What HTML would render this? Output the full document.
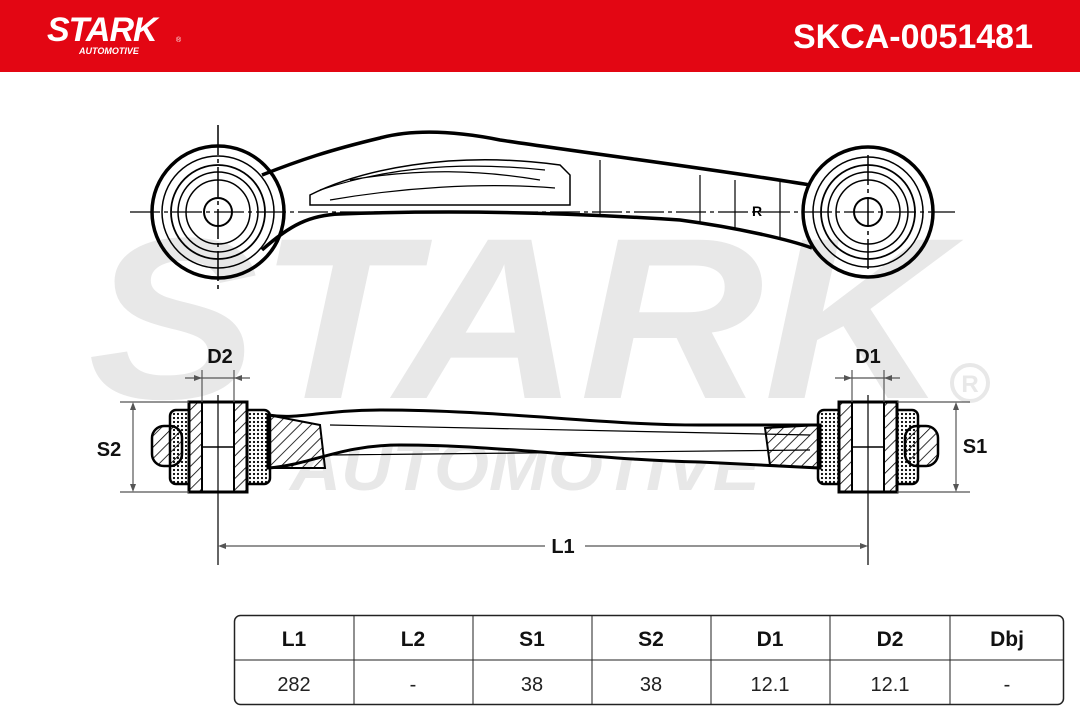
<!DOCTYPE html>
<html><head><meta charset="utf-8"><style>
html,body{margin:0;padding:0;background:#fff}
svg{display:block}
</style></head><body>
<svg width="1080" height="720" viewBox="0 0 1080 720" xmlns="http://www.w3.org/2000/svg" font-family="Liberation Sans, sans-serif">
<defs>
<pattern id="hatch" width="8" height="8" patternUnits="userSpaceOnUse" patternTransform="rotate(45)">
<line x1="0" y1="0" x2="0" y2="8" stroke="#000" stroke-width="1.6"/></pattern>
<pattern id="dots" width="4" height="4" patternUnits="userSpaceOnUse">
<circle cx="2" cy="2" r="1.1" fill="#000"/></pattern>
</defs>
<rect x="0" y="0" width="1080" height="72" fill="#e30613"/>
<text x="47" y="41" font-size="34" font-weight="bold" font-style="italic" fill="#fff" letter-spacing="-1">STARK</text>
<text x="176" y="42" font-size="7" fill="#fff">®</text>
<text x="79" y="54" font-size="9" font-weight="bold" font-style="italic" fill="#fff">AUTOMOTIVE</text>
<text x="1033" y="48" font-size="34" font-weight="bold" fill="#fff" text-anchor="end">SKCA-0051481</text>
<!-- watermark -->
<text x="88" y="398" font-size="230" font-weight="bold" font-style="italic" fill="#e8e8e8" textLength="860" lengthAdjust="spacingAndGlyphs">STARK</text>
<text x="290" y="490" font-size="68" font-weight="bold" font-style="italic" fill="#e8e8e8" textLength="470" lengthAdjust="spacingAndGlyphs">AUTOMOTIVE</text>
<circle cx="970" cy="383" r="18" fill="none" stroke="#e8e8e8" stroke-width="4"/>
<text x="970" y="392" font-size="24" font-weight="bold" fill="#e8e8e8" text-anchor="middle">R</text>

<!-- top view -->
<g fill="none" stroke="#000">
<path d="M262,175 C300,160 330,150 380,138 C410,130 450,130 500,140 C600,155 720,170 810,185 M262,250 C290,225 310,215 340,214 C450,210 560,212 680,220 C740,228 790,240 812,248" stroke-width="3.5"/>
<path d="M310,195 C360,170 450,150 560,165 L570,175 L570,205 C500,205 400,205 310,205 Z" stroke-width="1.5"/>
<path d="M320,190 C380,170 450,160 545,170 M330,200 C400,188 480,182 555,188 M350,180 C420,168 480,170 540,180" stroke-width="1.2"/>
<line x1="600" y1="160" x2="600" y2="214" stroke-width="1.2"/>
<line x1="700" y1="175" x2="700" y2="222" stroke-width="1.2"/>
<line x1="735" y1="180" x2="735" y2="228" stroke-width="1.2"/>
<line x1="780" y1="182" x2="780" y2="238" stroke-width="1.2"/>
<circle cx="218" cy="212" r="66" stroke-width="3.5"/>
<circle cx="218" cy="212" r="56" stroke-width="1.5"/>
<circle cx="218" cy="212" r="47" stroke-width="1.8"/>
<circle cx="218" cy="212" r="40" stroke-width="1.5"/>
<circle cx="218" cy="212" r="32" stroke-width="1.5"/>
<circle cx="218" cy="212" r="14" stroke-width="2"/>
<circle cx="868" cy="212" r="65" stroke-width="3.5"/>
<circle cx="868" cy="212" r="55" stroke-width="1.5"/>
<circle cx="868" cy="212" r="47" stroke-width="1.8"/>
<circle cx="868" cy="212" r="40" stroke-width="1.5"/>
<circle cx="868" cy="212" r="32" stroke-width="1.5"/>
<circle cx="868" cy="212" r="14" stroke-width="2"/>
<line x1="130" y1="212" x2="955" y2="212" stroke-width="1.2" stroke-dasharray="30,4,4,4"/>
<line x1="218" y1="125" x2="218" y2="290" stroke-width="1.5" stroke-dasharray="30,4,4,4"/>
<line x1="868" y1="155" x2="868" y2="270" stroke-width="1.5" stroke-dasharray="30,4,4,4"/>
</g>
<text x="752" y="216" font-size="14" font-weight="bold">R</text>

<!-- side view -->
<g stroke="#000" fill="none">
<path d="M268,415 C300,420 320,410 380,410 C500,410 600,425 700,425 L820,425 L820,468 L700,462 C600,460 500,445 400,445 C340,445 310,465 268,468 Z" fill="#fff" stroke-width="3"/>
<path d="M268,415 L320,425 L325,468 L268,468 Z" fill="url(#hatch)" stroke-width="2"/>
<path d="M820,425 L765,428 L770,465 L820,468 Z" fill="url(#hatch)" stroke-width="2"/>
<path d="M330,425 L810,435 M330,455 L810,450" stroke-width="1.2"/>
<rect x="152" y="426" width="30" height="40" rx="12" fill="url(#hatch)" stroke-width="2.5"/>
<rect x="905" y="426" width="33" height="40" rx="12" fill="url(#hatch)" stroke-width="2.5"/>
<rect x="170" y="410" width="100" height="74" rx="6" fill="url(#dots)" stroke-width="2.5"/>
<rect x="818" y="410" width="100" height="74" rx="6" fill="url(#dots)" stroke-width="2.5"/>
<rect x="189" y="402" width="58" height="90" fill="#fff" stroke-width="3"/>
<rect x="189" y="402" width="13" height="90" fill="url(#hatch)" stroke-width="2"/>
<rect x="234" y="402" width="13" height="90" fill="url(#hatch)" stroke-width="2"/>
<line x1="202" y1="447" x2="234" y2="447" stroke-width="1.5"/>
<rect x="839" y="402" width="58" height="90" fill="#fff" stroke-width="3"/>
<rect x="839" y="402" width="13" height="90" fill="url(#hatch)" stroke-width="2"/>
<rect x="884" y="402" width="13" height="90" fill="url(#hatch)" stroke-width="2"/>
<line x1="852" y1="447" x2="884" y2="447" stroke-width="1.5"/>
<line x1="218" y1="395" x2="218" y2="565" stroke-width="1.2"/>
<line x1="868" y1="395" x2="868" y2="565" stroke-width="1.2"/>
</g>
<g stroke="#555" stroke-width="1.2" fill="#555">
<line x1="202" y1="370" x2="202" y2="402"/><line x1="234" y1="370" x2="234" y2="402"/>
<line x1="185" y1="378" x2="250" y2="378"/>
<line x1="852" y1="370" x2="852" y2="402"/><line x1="884" y1="370" x2="884" y2="402"/>
<line x1="835" y1="378" x2="900" y2="378"/>
<line x1="120" y1="402" x2="189" y2="402"/><line x1="120" y1="492" x2="189" y2="492"/>
<line x1="133" y1="405" x2="133" y2="489"/>
<line x1="897" y1="402" x2="970" y2="402"/><line x1="897" y1="492" x2="970" y2="492"/>
<line x1="956" y1="405" x2="956" y2="489"/>
<line x1="222" y1="546" x2="545" y2="546"/><line x1="585" y1="546" x2="864" y2="546"/>
<path d="M202,378 l-8,-3 v6z M234,378 l8,-3 v6z M852,378 l-8,-3 v6z M884,378 l8,-3 v6z M133,402 l-3,8 h6z M133,492 l-3,-8 h6z M956,402 l-3,8 h6z M956,492 l-3,-8 h6z M218,546 l8,-3 v6z M868,546 l-8,-3 v6z" stroke="none"/>
</g>
<g font-size="20" font-weight="bold" fill="#111" text-anchor="middle">
<text x="220" y="363">D2</text><text x="868" y="363">D1</text>
<text x="109" y="456">S2</text><text x="975" y="453">S1</text>
<text x="563" y="553">L1</text>
</g>

<!-- table -->
<rect x="234.5" y="615.5" width="829" height="89" rx="6" fill="#fff" stroke="#222" stroke-width="1.5"/>
<g stroke="#222" stroke-width="1">
<line x1="234" y1="660" x2="1064" y2="660"/>
<line x1="354" y1="615" x2="354" y2="705"/><line x1="473" y1="615" x2="473" y2="705"/>
<line x1="592" y1="615" x2="592" y2="705"/><line x1="711" y1="615" x2="711" y2="705"/>
<line x1="830" y1="615" x2="830" y2="705"/><line x1="950" y1="615" x2="950" y2="705"/>
</g>
<g font-size="21" font-weight="bold" fill="#111" text-anchor="middle">
<text x="294" y="646">L1</text><text x="413" y="646">L2</text><text x="532" y="646">S1</text><text x="651" y="646">S2</text><text x="770" y="646">D1</text><text x="890" y="646">D2</text><text x="1007" y="646">Dbj</text>
</g>
<g font-size="20" fill="#222" text-anchor="middle">
<text x="294" y="691">282</text><text x="413" y="691">-</text><text x="532" y="691">38</text><text x="651" y="691">38</text><text x="770" y="691">12.1</text><text x="890" y="691">12.1</text><text x="1007" y="691">-</text>
</g>
</svg>
</body></html>
